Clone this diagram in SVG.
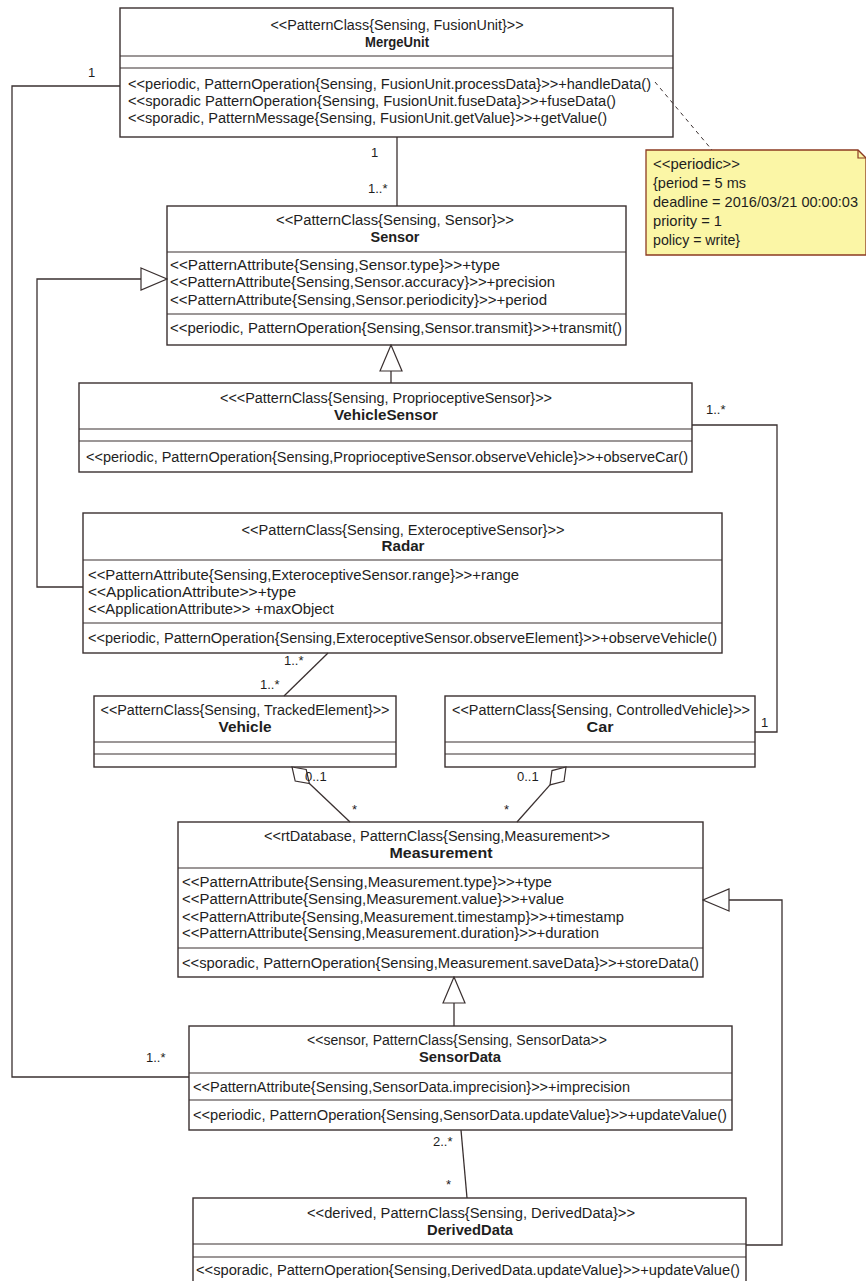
<svg xmlns="http://www.w3.org/2000/svg" width="866" height="1281" viewBox="0 0 866 1281">
  <style>
    .box { fill: #ffffff; stroke: #3a3030; stroke-width: 1.4; }
    .div { stroke: #3a3030; stroke-width: 1.2; }
    .t { font-family: "Liberation Sans", Arial, sans-serif; font-size: 14px; fill: #1e1e1e; }
    .c { text-anchor: middle; }
    .b { font-weight: bold; font-size: 14.5px; }
    .edge { fill: none; stroke: #3a3030; stroke-width: 1.3; }
    .head { fill: #ffffff; stroke: #3a3030; stroke-width: 1.2; }
    .lbl { font-family: "Liberation Sans", Arial, sans-serif; font-size: 13px; fill: #1e1e1e; }
    .note { fill: #fbf6a6; stroke: #8c3b22; stroke-width: 1.3; }
    .nt { font-family: "Liberation Sans", Arial, sans-serif; font-size: 15px; fill: #1e1e1e; }
  </style>
  <defs>
    <!-- hollow triangle used for generalization ends -->
    <marker id="gen" viewBox="0 0 28 24" refX="27" refY="12" markerWidth="28" markerHeight="24" markerUnits="userSpaceOnUse" orient="auto">
      <path d="M1,1 L27,12 L1,23 Z" fill="#ffffff" stroke="#3a3030" stroke-width="1.2"/>
    </marker>
  </defs>

  <!-- MergeUnit -->
  <g id="MergeUnit">
    <rect class="box" x="120" y="8" width="553" height="129"/>
    <line class="div" x1="120" y1="56" x2="673" y2="56"/>
    <line class="div" x1="120" y1="68" x2="673" y2="68"/>
    <text class="t c" x="397" y="30" textLength="253" lengthAdjust="spacingAndGlyphs">&lt;&lt;PatternClass{Sensing, FusionUnit}&gt;&gt;</text>
    <text class="t c b" x="397" y="47" textLength="64" lengthAdjust="spacingAndGlyphs">MergeUnit</text>
    <text class="t" x="128" y="89" textLength="523" lengthAdjust="spacingAndGlyphs">&lt;&lt;periodic, PatternOperation{Sensing, FusionUnit.processData}&gt;&gt;+handleData()</text>
    <text class="t" x="128" y="106" textLength="488" lengthAdjust="spacingAndGlyphs">&lt;&lt;sporadic PatternOperation{Sensing, FusionUnit.fuseData}&gt;&gt;+fuseData()</text>
    <text class="t" x="128" y="123" textLength="479" lengthAdjust="spacingAndGlyphs">&lt;&lt;sporadic, PatternMessage{Sensing, FusionUnit.getValue}&gt;&gt;+getValue()</text>
  </g>

  <!-- note on the periodic operation -->
  <g id="PeriodicNote">
    <path class="note" d="M646,150 H858 L866,158 V255 H646 Z"/>
    <path d="M858,150 V158 H866" fill="none" stroke="#8c3b22" stroke-width="1.2"/>
    <text class="nt" x="653" y="169" textLength="87" lengthAdjust="spacingAndGlyphs">&lt;&lt;periodic&gt;&gt;</text>
    <text class="nt" x="653" y="188" textLength="93" lengthAdjust="spacingAndGlyphs">{period = 5 ms</text>
    <text class="nt" x="653" y="207" textLength="205" lengthAdjust="spacingAndGlyphs">deadline = 2016/03/21 00:00:03</text>
    <text class="nt" x="653" y="226" textLength="69" lengthAdjust="spacingAndGlyphs">priority = 1</text>
    <text class="nt" x="653" y="245" textLength="87" lengthAdjust="spacingAndGlyphs">policy = write}</text>
  </g>

  <!-- Sensor -->
  <g id="Sensor">
    <rect class="box" x="167" y="206" width="459" height="139"/>
    <line class="div" x1="167" y1="252" x2="626" y2="252"/>
    <line class="div" x1="167" y1="314" x2="626" y2="314"/>
    <text class="t c" x="395" y="225" textLength="238" lengthAdjust="spacingAndGlyphs">&lt;&lt;PatternClass{Sensing, Sensor}&gt;&gt;</text>
    <text class="t c b" x="395" y="242" textLength="49" lengthAdjust="spacingAndGlyphs">Sensor</text>
    <text class="t" x="170" y="270" textLength="330" lengthAdjust="spacingAndGlyphs">&lt;&lt;PatternAttribute{Sensing,Sensor.type}&gt;&gt;+type</text>
    <text class="t" x="170" y="287" textLength="385" lengthAdjust="spacingAndGlyphs">&lt;&lt;PatternAttribute{Sensing,Sensor.accuracy}&gt;&gt;+precision</text>
    <text class="t" x="170" y="305" textLength="377" lengthAdjust="spacingAndGlyphs">&lt;&lt;PatternAttribute{Sensing,Sensor.periodicity}&gt;&gt;+period</text>
    <text class="t" x="170" y="333" textLength="452" lengthAdjust="spacingAndGlyphs">&lt;&lt;periodic, PatternOperation{Sensing,Sensor.transmit}&gt;&gt;+transmit()</text>
  </g>

  <!-- VehicleSensor -->
  <g id="VehicleSensor">
    <rect class="box" x="79" y="383" width="613" height="89"/>
    <line class="div" x1="79" y1="429" x2="692" y2="429"/>
    <line class="div" x1="79" y1="441" x2="692" y2="441"/>
    <text class="t c" x="386" y="403" textLength="332" lengthAdjust="spacingAndGlyphs">&lt;&lt;&lt;PatternClass{Sensing, ProprioceptiveSensor}&gt;&gt;</text>
    <text class="t c b" x="386" y="420" textLength="104" lengthAdjust="spacingAndGlyphs">VehicleSensor</text>
    <text class="t" x="86" y="462" textLength="602" lengthAdjust="spacingAndGlyphs">&lt;&lt;periodic, PatternOperation{Sensing,ProprioceptiveSensor.observeVehicle}&gt;&gt;+observeCar()</text>
  </g>

  <!-- Radar -->
  <g id="Radar">
    <rect class="box" x="83" y="513" width="639" height="140"/>
    <line class="div" x1="83" y1="560" x2="722" y2="560"/>
    <line class="div" x1="83" y1="623" x2="722" y2="623"/>
    <text class="t c" x="403" y="535" textLength="323" lengthAdjust="spacingAndGlyphs">&lt;&lt;PatternClass{Sensing, ExteroceptiveSensor}&gt;&gt;</text>
    <text class="t c b" x="403" y="551" textLength="43" lengthAdjust="spacingAndGlyphs">Radar</text>
    <text class="t" x="88" y="580" textLength="431" lengthAdjust="spacingAndGlyphs">&lt;&lt;PatternAttribute{Sensing,ExteroceptiveSensor.range}&gt;&gt;+range</text>
    <text class="t" x="88" y="597" textLength="208" lengthAdjust="spacingAndGlyphs">&lt;&lt;ApplicationAttribute&gt;&gt;+type</text>
    <text class="t" x="88" y="614" textLength="246" lengthAdjust="spacingAndGlyphs">&lt;&lt;ApplicationAttribute&gt;&gt; +maxObject</text>
    <text class="t" x="88" y="643" textLength="629" lengthAdjust="spacingAndGlyphs">&lt;&lt;periodic, PatternOperation{Sensing,ExteroceptiveSensor.observeElement}&gt;&gt;+observeVehicle()</text>
  </g>

  <!-- Vehicle -->
  <g id="Vehicle">
    <rect class="box" x="94" y="696" width="302" height="71"/>
    <line class="div" x1="94" y1="742" x2="396" y2="742"/>
    <line class="div" x1="94" y1="754" x2="396" y2="754"/>
    <text class="t c" x="245" y="715" textLength="289" lengthAdjust="spacingAndGlyphs">&lt;&lt;PatternClass{Sensing, TrackedElement}&gt;&gt;</text>
    <text class="t c b" x="245" y="732" textLength="53" lengthAdjust="spacingAndGlyphs">Vehicle</text>
  </g>

  <!-- Car -->
  <g id="Car">
    <rect class="box" x="445" y="696" width="310" height="71"/>
    <line class="div" x1="445" y1="742" x2="755" y2="742"/>
    <line class="div" x1="445" y1="754" x2="755" y2="754"/>
    <text class="t c" x="601" y="715" textLength="298" lengthAdjust="spacingAndGlyphs">&lt;&lt;PatternClass{Sensing, ControlledVehicle}&gt;&gt;</text>
    <text class="t c b" x="600" y="732" textLength="27" lengthAdjust="spacingAndGlyphs">Car</text>
  </g>

  <!-- Measurement -->
  <g id="Measurement">
    <rect class="box" x="178" y="822" width="525" height="155"/>
    <line class="div" x1="178" y1="868" x2="703" y2="868"/>
    <line class="div" x1="178" y1="948" x2="703" y2="948"/>
    <text class="t c" x="437" y="841" textLength="346" lengthAdjust="spacingAndGlyphs">&lt;&lt;rtDatabase, PatternClass{Sensing,Measurement&gt;&gt;</text>
    <text class="t c b" x="441" y="858" textLength="103" lengthAdjust="spacingAndGlyphs">Measurement</text>
    <text class="t" x="182" y="887" textLength="370" lengthAdjust="spacingAndGlyphs">&lt;&lt;PatternAttribute{Sensing,Measurement.type}&gt;&gt;+type</text>
    <text class="t" x="182" y="904" textLength="382" lengthAdjust="spacingAndGlyphs">&lt;&lt;PatternAttribute{Sensing,Measurement.value}&gt;&gt;+value</text>
    <text class="t" x="182" y="922" textLength="442" lengthAdjust="spacingAndGlyphs">&lt;&lt;PatternAttribute{Sensing,Measurement.timestamp}&gt;&gt;+timestamp</text>
    <text class="t" x="182" y="938" textLength="417" lengthAdjust="spacingAndGlyphs">&lt;&lt;PatternAttribute{Sensing,Measurement.duration}&gt;&gt;+duration</text>
    <text class="t" x="182" y="968" textLength="517" lengthAdjust="spacingAndGlyphs">&lt;&lt;sporadic, PatternOperation{Sensing,Measurement.saveData}&gt;&gt;+storeData()</text>
  </g>

  <!-- SensorData -->
  <g id="SensorData">
    <rect class="box" x="189" y="1026" width="543" height="104"/>
    <line class="div" x1="189" y1="1073" x2="732" y2="1073"/>
    <line class="div" x1="189" y1="1100" x2="732" y2="1100"/>
    <text class="t c" x="457" y="1045" textLength="300" lengthAdjust="spacingAndGlyphs">&lt;&lt;sensor, PatternClass{Sensing, SensorData&gt;&gt;</text>
    <text class="t c b" x="460" y="1062" textLength="82" lengthAdjust="spacingAndGlyphs">SensorData</text>
    <text class="t" x="193" y="1092" textLength="437" lengthAdjust="spacingAndGlyphs">&lt;&lt;PatternAttribute{Sensing,SensorData.imprecision}&gt;&gt;+imprecision</text>
    <text class="t" x="193" y="1120" textLength="534" lengthAdjust="spacingAndGlyphs">&lt;&lt;periodic, PatternOperation{Sensing,SensorData.updateValue}&gt;&gt;+updateValue()</text>
  </g>

  <!-- DerivedData -->
  <g id="DerivedData">
    <rect class="box" x="193" y="1198" width="553" height="90"/>
    <line class="div" x1="193" y1="1244" x2="746" y2="1244"/>
    <line class="div" x1="193" y1="1257" x2="746" y2="1257"/>
    <text class="t c" x="471" y="1218" textLength="328" lengthAdjust="spacingAndGlyphs">&lt;&lt;derived, PatternClass{Sensing, DerivedData}&gt;&gt;</text>
    <text class="t c b" x="470" y="1235" textLength="86" lengthAdjust="spacingAndGlyphs">DerivedData</text>
    <text class="t" x="196" y="1275" textLength="544" lengthAdjust="spacingAndGlyphs">&lt;&lt;sporadic, PatternOperation{Sensing,DerivedData.updateValue}&gt;&gt;+updateValue()</text>
  </g>

  <!-- connectors, drawn over the classes -->
  <g id="connectors">
    <!-- MergeUnit 1 — 1..* SensorData -->
    <polyline class="edge" points="120,86 12,86 12,1077 189,1077"/>
    <text class="lbl" x="88" y="77">1</text>
    <text class="lbl" x="146" y="1062">1..*</text>

    <!-- MergeUnit 1 — 1..* Sensor -->
    <line class="edge" x1="397" y1="137" x2="397" y2="206"/>
    <text class="lbl" x="371" y="157">1</text>
    <text class="lbl" x="368" y="193">1..*</text>

    <!-- Radar generalizes Sensor -->
    <polyline class="edge" points="83,587 37,587 37,279 167,279" marker-end="url(#gen)"/>

    <!-- VehicleSensor generalizes Sensor -->
    <line class="edge" x1="391" y1="383" x2="391" y2="345" marker-end="url(#gen)"/>

    <!-- VehicleSensor 1..* — 1 Car -->
    <polyline class="edge" points="692,425 777,425 777,732 755,732"/>
    <text class="lbl" x="706" y="414">1..*</text>
    <text class="lbl" x="761" y="727">1</text>

    <!-- Radar 1..* — 1..* Vehicle -->
    <line class="edge" x1="328" y1="653" x2="284" y2="696"/>
    <text class="lbl" x="284" y="665">1..*</text>
    <text class="lbl" x="260" y="689">1..*</text>

    <!-- Vehicle aggregates Measurement -->
    <polygon class="head" points="292,767 306.2,769.5 309.4,783.5 295.2,781.1"/>
    <line class="edge" x1="309.4" y1="783.5" x2="350" y2="822"/>
    <text class="lbl" x="305" y="781">0..1</text>
    <text class="lbl" x="352" y="814">*</text>

    <!-- Car aggregates Measurement -->
    <polygon class="head" points="566,767 564,781.3 550,784.9 552,770.6"/>
    <line class="edge" x1="550" y1="784.9" x2="517" y2="822"/>
    <text class="lbl" x="517" y="781">0..1</text>
    <text class="lbl" x="504" y="814">*</text>

    <!-- SensorData generalizes Measurement -->
    <line class="edge" x1="454" y1="1026" x2="454" y2="977" marker-end="url(#gen)"/>

    <!-- DerivedData generalizes Measurement -->
    <polyline class="edge" points="746,1245 782,1245 782,900 703,900" marker-end="url(#gen)"/>

    <!-- SensorData 2..* — * DerivedData -->
    <line class="edge" x1="461" y1="1130" x2="467" y2="1198"/>
    <text class="lbl" x="433" y="1146">2..*</text>
    <text class="lbl" x="446" y="1189">*</text>

    <!-- note anchor -->
    <line x1="655" y1="82" x2="712" y2="150" stroke="#3a3030" stroke-width="1" stroke-dasharray="4,4"/>
  </g>
</svg>
